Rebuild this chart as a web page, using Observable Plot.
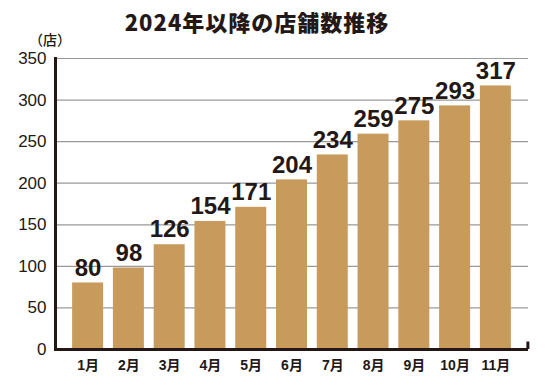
<!DOCTYPE html>
<html><head><meta charset="utf-8">
<script src="https://cdn.jsdelivr.net/npm/d3@7"></script>
<script src="https://cdn.jsdelivr.net/npm/@observablehq/plot@0.6"></script>
<style>
body{margin:0;background:#fff;}
#wrap{width:554px;position:relative;}
#head{height:50px;position:relative;}
#title{position:absolute;left:0;width:514px;top:5px;text-align:center;font:900 22px "Noto Sans CJK JP","Liberation Sans",sans-serif;letter-spacing:1px;color:#231815;}
#unit{position:absolute;left:29px;top:29px;font:500 14px "Noto Sans CJK JP",sans-serif;color:#231815;}
</style></head>
<body><div id="wrap"><div id="head"><div id="title">2024年以降の店舗数推移</div><div id="unit">（店）</div></div><div id="chart"></div></div>
<script>
const months = ["1月","2月","3月","4月","5月","6月","7月","8月","9月","10月","11月"];
const stores = [80, 98, 126, 154, 171, 204, 234, 259, 275, 293, 317];
const yTicks = [0, 50, 100, 150, 200, 250, 300, 350];
const gridTicks = [50, 100, 150, 200, 250, 300, 350];
const data = months.map((m, i) => ({month: m, value: stores[i]}));
const ink = "#231815";
const chart = Plot.plot({
  width: 554, height: 339,
  marginLeft: 55, marginRight: 26, marginTop: 8, marginBottom: 40,
  x: {domain: months, paddingInner: 0.24, paddingOuter: 0.42, round: false, label: null},
  y: {domain: [0, 350], label: null},
  style: {background: "#fff"},
  marks: [
    Plot.gridY(gridTicks, {stroke: "#999", strokeOpacity: 1, strokeWidth: 1.2}),
    Plot.barY(data, {x: "month", y: "value", fill: "#c89a5c"}),
    Plot.text(data, {x: "month", y: "value", text: d => String(d.value), dy: -15, fill: ink,
      fontSize: 24, fontWeight: "bold", fontFamily: "'Liberation Sans',Arial,sans-serif", letterSpacing: "-2px"}),
    Plot.ruleY([0], {stroke: ink, strokeWidth: 3}),
    Plot.frame({anchor: "left", stroke: ink, strokeWidth: 3}),
    Plot.ruleX(["11月"], {dx: 32, y1: 0, y2: 9, stroke: ink, strokeWidth: 3}),
    Plot.axisY({ticks: yTicks, tickSize: 0, tickPadding: 9, fontSize: 17, fill: ink, label: null,
      fontFamily: "'Liberation Sans',Arial,sans-serif"}),
    Plot.axisX({tickSize: 0, tickPadding: 11, fontSize: 14, fontWeight: "bold", fill: ink, label: null,
      fontFamily: "'Liberation Sans','Noto Sans CJK JP',sans-serif"})
  ]
});
document.getElementById("chart").appendChild(chart);
</script></body></html>
